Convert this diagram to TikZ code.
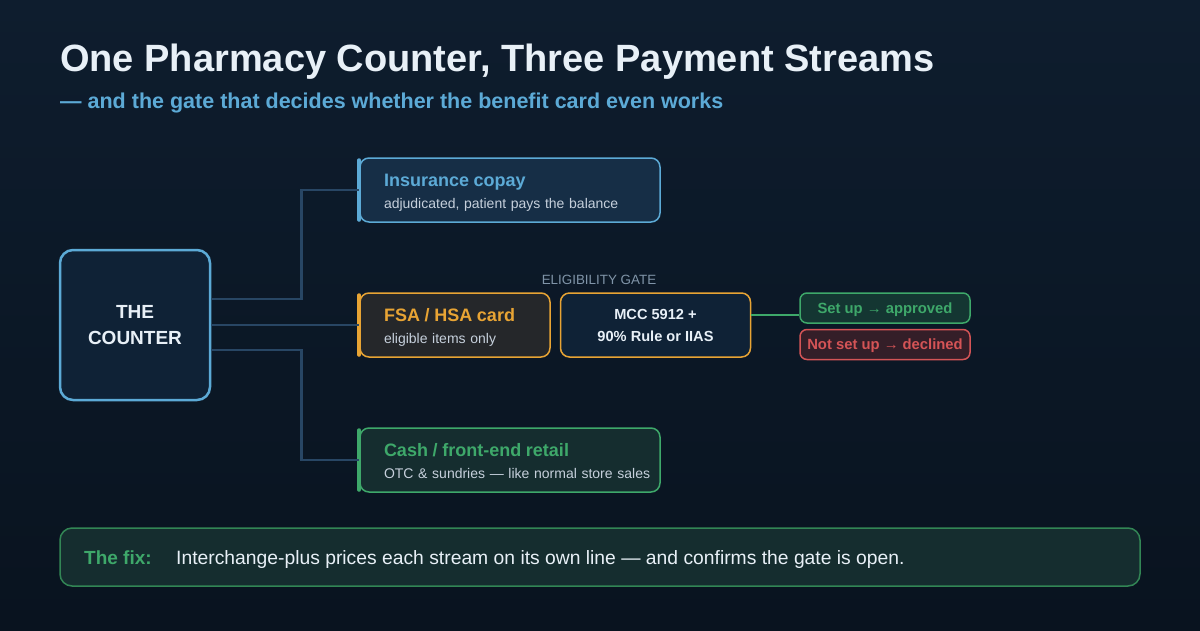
\documentclass[tikz,border=0pt]{standalone}
\usepackage{fontspec}
\setmainfont{Liberation Sans}
\usepackage{tikz}
\usetikzlibrary{positioning, calc}
\definecolor{bgtop}{RGB}{14,29,46}
\definecolor{bgbot}{RGB}{9,19,31}
\definecolor{mywhite}{RGB}{232,240,247}
\definecolor{myblue}{RGB}{92,170,214}
\definecolor{myamber}{RGB}{232,164,52}
\definecolor{mygreen}{RGB}{62,168,106}
\definecolor{myred}{RGB}{212,84,86}
\definecolor{mywire}{RGB}{40,70,100}
\definecolor{mygrey}{RGB}{198,208,220}
\definecolor{mylabel}{RGB}{128,148,168}
\definecolor{fillblue}{RGB}{22,46,70}
\definecolor{fillamber}{RGB}{37,39,42}
\definecolor{fillgreen}{RGB}{21,45,47}
\definecolor{fillnavy}{RGB}{15,34,54}
\definecolor{fillok}{RGB}{20,54,50}
\definecolor{fillred}{RGB}{52,30,40}
\newcommand{\fsz}[1]{\fontsize{#1}{#1}\selectfont}
\tikzset{
  counterbox/.style={rectangle, draw=myblue, fill=fillnavy,
    minimum size=150pt, rounded corners=13pt, line width=2.5pt,
    align=center, text=mywhite, font=\fontsize{19}{26}\selectfont\bfseries},
  stream/.style={rectangle, rounded corners=9pt, line width=1.5pt,
    minimum height=64pt, inner xsep=24pt, inner ysep=0pt, align=left,
    text height=13pt, text depth=20pt,
    text=mygrey, font=\fontsize{14}{22}\selectfont},
  gatebox/.style={rectangle, draw=myamber, fill=fillnavy,
    minimum width=190pt, minimum height=64pt, rounded corners=9pt,
    line width=1.5pt, align=center, text=mywhite,
    font=\fontsize{14.6}{22}\selectfont\bfseries},
  outcome/.style={rectangle, minimum width=170pt, minimum height=30pt,
    rounded corners=7pt, line width=1.5pt, inner sep=0pt,
    text height=13.6pt, text depth=3pt, font=\fsz{14.8}\bfseries},
  accent/.style={line width=4pt, line cap=round},
  wire/.style={line width=2.5pt, color=mywire},
  okline/.style={line width=2.5pt, color=mygreen}
}

\begin{document}
\begin{tikzpicture}[x=1pt, y=-1pt]
  \shade[top color=bgtop, bottom color=bgbot] (0,0) rectangle (1200,630);
  \useasboundingbox (0,0) rectangle (1200,630);

  % heading
  \node[anchor=base west, inner sep=0pt, text=mywhite, font=\fsz{38}\bfseries]
    (title) at (60,71) {One Pharmacy Counter, Three Payment Streams};
  \node[anchor=base west, inner sep=0pt, text=myblue, font=\fsz{21.5}\bfseries]
    (subtitle) at (60,108) {— and the gate that decides whether the benefit card even works};

  % the counter and its three streams
  \node[counterbox] (ctr) at (135,325) {THE\\COUNTER};

  \node[stream, draw=myblue, fill=fillblue, text width=252pt] (ins) at (510,190)
    {{\fsz{18}\bfseries\color{myblue}Insurance copay}\\\mbox{adjudicated, patient pays the balance}};
  \node[stream, draw=myamber, fill=fillamber, text width=142pt] (fsa) at (455,325)
    {{\fsz{18}\bfseries\color{myamber}FSA / HSA card}\\\mbox{eligible items only}};
  \node[stream, draw=mygreen, fill=fillgreen, text width=252pt] (cash) at (510,460)
    {{\fsz{18}\bfseries\color{mygreen}Cash / front-end retail}\\\mbox{OTC \& sundries — like normal store sales}};

  \draw[accent, myblue] ([yshift=-3pt]ins.north west) -- ([yshift=3pt]ins.south west);
  \draw[accent, myamber] ([yshift=-3pt]fsa.north west) -- ([yshift=3pt]fsa.south west);
  \draw[accent, mygreen] ([yshift=-3pt]cash.north west) -- ([yshift=3pt]cash.south west);

  \draw[wire] ([yshift=26pt]ctr.east) -- ++(90,0) |- (ins.west);
  \draw[wire] (ctr.east) -- (fsa.west);
  \draw[wire] ([yshift=-25pt]ctr.east) -- ++(90,0) |- (cash.west);

  % eligibility gate
  \node[gatebox, right=9pt of fsa] (gate) {MCC 5912 +\\90\% Rule or IIAS};
  \node[inner sep=0pt, text=mylabel, font=\fsz{13.4}] (gatelbl) at (599,280) {ELIGIBILITY GATE};

  \node[outcome, draw=mygreen, fill=fillok, text=mygreen] (ok) at (885,308) {Set up → approved};
  \node[outcome, draw=myred, fill=fillred, text=myred, below=5pt of ok] (dec) {Not set up → declined};
  \draw[okline] ([yshift=10pt]gate.east) -- ([yshift=10pt]gate.east -| ok.west);

  % the fix
  \node[rectangle, draw=mygreen!80!black, fill=fillgreen, line width=1.5pt, rounded corners=12pt,
    minimum width=1080pt, minimum height=58pt] (fix) at (600,557) {};
  \node[anchor=base west, inner sep=0pt, text=mygreen, font=\fsz{19}\bfseries] (fixlbl) at (84,564) {The fix:};
  \node[anchor=base west, inner sep=0pt, text=mywhite, font=\fsz{19.3}] (fixtxt) at (176,564)
    {Interchange-plus prices each stream on its own line — and confirms the gate is open.};
\end{tikzpicture}
\end{document}
